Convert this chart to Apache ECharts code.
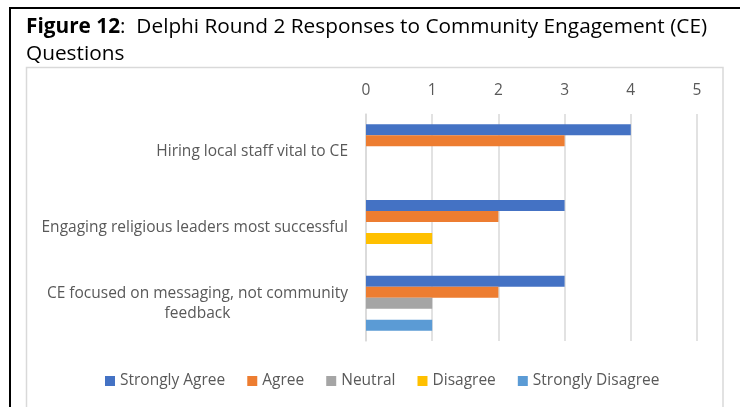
<!DOCTYPE html>
<html><head><meta charset="utf-8">
<script src="https://cdn.jsdelivr.net/npm/echarts@6/dist/echarts.min.js"></script>
<style>html,body{margin:0;padding:0;background:#fff}#c{width:740px;height:407px}</style>
</head><body><div id="c"></div>
<script>
const categories = ['Hiring local staff vital to CE', 'Engaging religious leaders most successful', 'CE focused on messaging, not community\nfeedback'];
const seriesNames = ['Strongly Agree', 'Agree', 'Neutral', 'Disagree', 'Strongly Disagree'];
const stronglyAgree = [4, 3, 3];
const agree = [3, 2, 2];
const neutral = [0, 0, 1];
const disagree = [0, 1, 0];
const stronglyDisagree = [0, 0, 1];
const xMin = 0, xMax = 5, xStep = 1;
const colors = ['#4472C4', '#ED7D31', '#A5A5A5', '#FFC000', '#5B9BD5'];
const FONT = 'Open Sans';
const FS = 15.5;

const values = [stronglyAgree, agree, neutral, disagree, stronglyDisagree];
const chart = echarts.init(document.getElementById('c'), null, {renderer: 'canvas'});
chart.setOption({
  animation: false,
  backgroundColor: '#fff',
  textStyle: {fontFamily: FONT},
  title: {
    left: 21, top: 9,
    text: '{b|Figure 12}{n|:  Delphi Round 2 Responses to Community Engagement (CE)}\n{n|Questions}',
    textStyle: {
      fontWeight: 'normal',
      rich: {
        b: {fontFamily: FONT, fontWeight: 'bold', fontSize: 20.8, color: '#000', lineHeight: 27},
        n: {fontFamily: FONT, fontWeight: 'normal', fontSize: 20.8, color: '#000', lineHeight: 27}
      }
    }
  },
  graphic: [
    {type: 'line', shape: {x1: 9, y1: 8, x2: 740, y2: 8}, style: {stroke: '#000', lineWidth: 2}, silent: true},
    {type: 'line', shape: {x1: 10, y1: 8, x2: 10, y2: 407}, style: {stroke: '#000', lineWidth: 2}, silent: true},
    {type: 'rect', shape: {x: 26.5, y: 67.5, width: 696.5, height: 360}, style: {fill: 'none', stroke: '#d9d9d9', lineWidth: 1.5}, silent: true}
  ],
  color: colors,
  legend: {
    data: seriesNames,
    bottom: 13, left: 100,
    icon: 'rect', itemWidth: 10, itemHeight: 10, itemGap: 22,
    textStyle: {color: '#595959', fontSize: FS, fontFamily: FONT}
  },
  grid: {left: 366, right: 43, top: 114, bottom: 66, containLabel: false},
  xAxis: {
    type: 'value', position: 'top', min: xMin, max: xMax, interval: xStep,
    axisLine: {show: false}, axisTick: {show: false},
    axisLabel: {color: '#595959', fontSize: FS, margin: 15, fontFamily: FONT},
    splitLine: {lineStyle: {color: '#d9d9d9', width: 1.5}}
  },
  yAxis: {
    type: 'category', inverse: true, data: categories,
    axisLine: {show: true, lineStyle: {color: '#d9d9d9', width: 1.5}},
    axisTick: {show: false},
    axisLabel: {
      color: '#595959', fontSize: FS, margin: 18, fontFamily: FONT,
      formatter: v => v.split('\n').map(s => '{c|' + s + '}').join('\n'),
      rich: {c: {align: 'center', color: '#595959', fontSize: FS, fontFamily: FONT, lineHeight: 20}}
    }
  },
  series: seriesNames.map((n, i) => ({
    name: n, type: 'bar', data: values[i], barWidth: 11, barGap: '0%',
    itemStyle: {color: colors[i]}
  }))
});
</script></body></html>
